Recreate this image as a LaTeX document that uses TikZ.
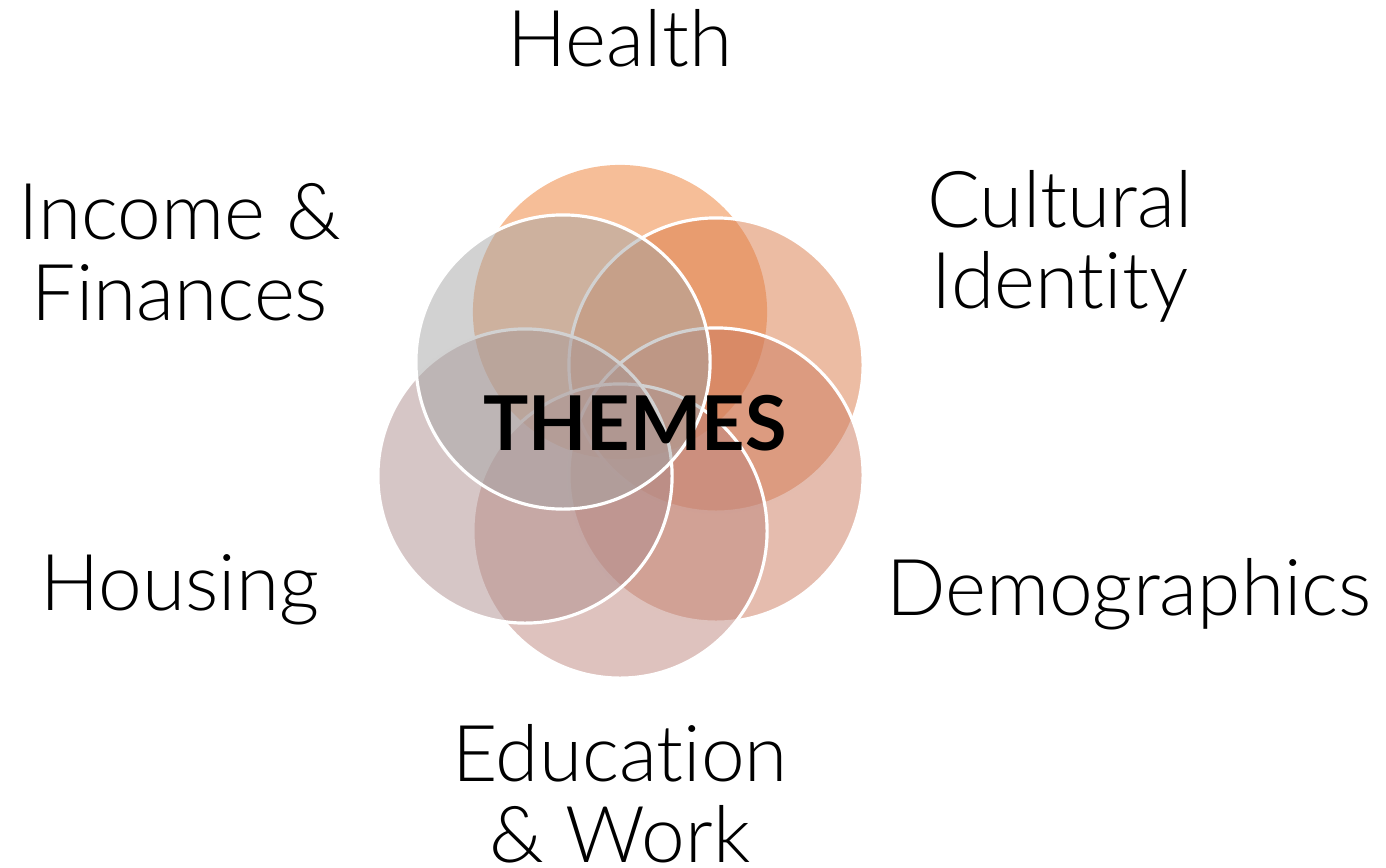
\documentclass[tikz,border=0pt]{standalone}
\usepackage{fontspec}
\setmainfont{Lato}[Ligatures=NoCommon]
\newfontfamily\lightfont{Lato Light}[Ligatures=NoCommon]
\usetikzlibrary{positioning}
\definecolor{hcol}{RGB}{237,125,49}
\definecolor{ccol}{RGB}{218,122,72}
\definecolor{dcol}{RGB}{203,122,94}
\definecolor{ecol}{RGB}{190,134,125}
\definecolor{ocol}{RGB}{174,142,142}
\definecolor{icol}{RGB}{165,165,165}
\begin{document}
\begin{tikzpicture}
[x=0.01cm,y=-0.01cm,
theme/.style={circle,inner sep=0pt,minimum size=2.94cm,fill opacity=.5,draw=white,line width=.9pt},
topic/.style={font=\lightfont\fontsize{22.3}{22.8}\selectfont,align=center,anchor=base,inner sep=0pt}]
\useasboundingbox (0,0) rectangle (1386,867);
%%
\node[theme,draw=none,fill=hcol] (health) at (620,312) {};
\node[theme,fill=ccol] (cult) at (716,365) {};
\node[theme,fill=dcol] (demo) at (716,475) {};
\node[theme,fill=ecol] (educ) at (620,531) {};
\node[theme,fill=ocol] (hous) at (525,476) {};
\node[theme,fill=icol] (inc) at (563,362) {};
%%
\node[font=\bfseries\fontsize{21.5}{24}\selectfont,anchor=base,inner sep=0pt] (themes) at (635,450) {THEMES};
%%
\node[topic] (lhealth) at (620,67) {Health};
\node[topic] (lcult) at (1060,308) {Cultural\\Identity};
\node[topic] (ldemo) at (1129,615) {Demographics};
\node[topic] (leduc) at (620,862) {Education\\\& Work};
\node[topic] (lhous) at (180,610) {Housing};
\node[topic] (linc) at (180,320) {Income \&\\Finances};
\end{tikzpicture}
\end{document}
